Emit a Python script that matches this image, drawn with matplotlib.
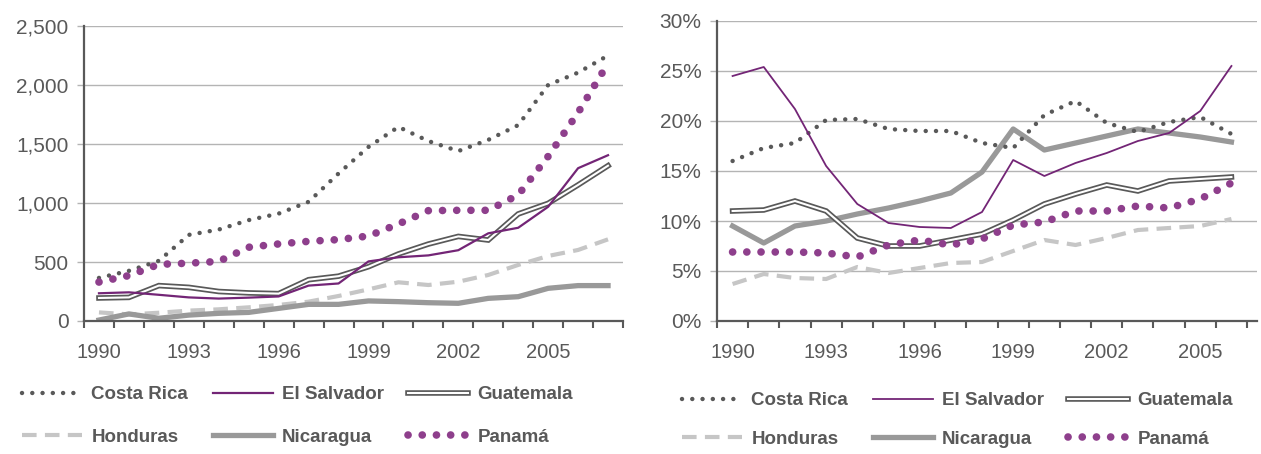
import matplotlib
matplotlib.use("Agg")
import matplotlib.pyplot as plt
import numpy as np
from matplotlib.ticker import FuncFormatter

plt.rcParams['font.family'] = ['Liberation Sans', 'DejaVu Sans']

# left chart: values 1990-2007
years_left = list(range(1990, 2008))
costa_rica_left = [365, 425, 510, 730, 775, 855, 910, 1010, 1250, 1475, 1645, 1525, 1440, 1535, 1660, 2000, 2105, 2250]
el_salvador_left = [235, 243, 222, 200, 190, 198, 208, 300, 318, 505, 540, 556, 600, 743, 790, 968, 1295, 1405]
guatemala_left = [195, 200, 300, 285, 250, 238, 232, 350, 380, 460, 568, 652, 717, 686, 907, 997, 1153, 1316]
honduras_left = [73, 56, 70, 88, 99, 116, 136, 164, 212, 268, 328, 305, 333, 390, 475, 551, 602, 692]
nicaragua_left = [8, 60, 23, 50, 65, 73, 107, 141, 141, 170, 164, 155, 150, 192, 206, 277, 300, 300]
panama_left = [330, 385, 480, 490, 505, 625, 653, 675, 690, 720, 822, 935, 938, 938, 1068, 1395, 1766, 2184]

# right chart: shares in %, 1990-2006
years_right = list(range(1990, 2007))
costa_rica_right = [16.0, 17.3, 17.8, 20.1, 20.2, 19.2, 19.0, 19.0, 17.8, 17.3, 20.6, 22.0, 19.8, 18.9, 19.9, 20.4, 18.7]
el_salvador_right = [24.5, 25.4, 21.2, 15.5, 11.7, 9.8, 9.4, 9.3, 10.9, 16.1, 14.5, 15.8, 16.8, 18.0, 18.8, 21.0, 25.5]
guatemala_right = [11.0, 11.1, 12.0, 11.0, 8.3, 7.5, 7.5, 8.1, 8.7, 10.1, 11.7, 12.7, 13.6, 13.0, 14.0, 14.2, 14.4]
honduras_right = [3.7, 4.7, 4.3, 4.2, 5.4, 4.8, 5.3, 5.8, 5.9, 7.0, 8.1, 7.6, 8.3, 9.1, 9.3, 9.5, 10.2]
nicaragua_right = [9.5, 7.8, 9.5, 10.0, 10.7, 11.3, 12.0, 12.8, 14.9, 19.2, 17.1, 17.8, 18.5, 19.2, 18.8, 18.4, 17.9]
panama_right = [6.9, 6.9, 6.9, 6.8, 6.4, 7.6, 8.1, 7.6, 8.2, 9.6, 9.9, 11.0, 11.0, 11.5, 11.3, 12.2, 13.8]

countries = ['Costa Rica', 'El Salvador', 'Guatemala', 'Honduras', 'Nicaragua', 'Panamá']

DARK = '#595959'
GRID = '#b4b4b4'
PURPLE = '#732576'
PURPLE_DOTS = '#8e3f8c'


def draw_series(ax, x, series, es_width):
    """Draw the six countries, return legend handles"""
    cr, es, gt, hn, ni, pa = series
    h_cr, = ax.plot(x, cr, color=DARK, lw=3.2, linestyle=(0, (0.01, 2.3)),
                    dash_capstyle='round', zorder=4)
    h_es, = ax.plot(x, es, color=PURPLE, lw=es_width, zorder=5)
    h_gt1, = ax.plot(x, gt, color=DARK, lw=4, zorder=3, solid_joinstyle='miter')
    h_gt2, = ax.plot(x, gt, color='white', lw=1.5, zorder=3.1, solid_joinstyle='miter')
    h_hn, = ax.plot(x, hn, color='#c6c6c6', lw=3, linestyle=(0, (3.5, 2)), zorder=2)
    h_ni, = ax.plot(x, ni, color='#999999', lw=3.8, zorder=2.5)
    h_pa, = ax.plot(x, pa, color=PURPLE_DOTS, lw=5.5, linestyle=(0, (0.01, 1.85)),
                    dash_capstyle='round', zorder=4.5)
    return [h_cr, h_es, (h_gt1, h_gt2), h_hn, h_ni, h_pa]


def style_axes(ax, n, xmax, years):
    ax.set_xlim(-0.5, xmax)
    for side in ['top', 'right']:
        ax.spines[side].set_visible(False)
    for side in ['left', 'bottom']:
        ax.spines[side].set_color(DARK)
        ax.spines[side].set_linewidth(1.6)
    ax.yaxis.grid(True, color=GRID, lw=1.0)
    ax.set_axisbelow(True)
    ax.tick_params(axis='y', length=5, width=1, color=GRID, pad=6,
                   labelsize=15, labelcolor=DARK)
    major = list(range(0, n, 3))
    ax.set_xticks(major)
    ax.set_xticklabels([str(years[i]) for i in major])
    ax.set_xticks(np.arange(-0.5, n + 0.5), minor=True)
    ax.tick_params(axis='x', which='major', length=0, pad=16,
                   labelsize=14.5, labelcolor=DARK)
    ax.tick_params(axis='x', which='minor', length=5, width=1.5, color=DARK)


def add_legend(ax, handles, x0, y0, spacing):
    # legend fills column by column, so reorder to get rows of three
    order = [0, 3, 1, 4, 2, 5]
    ax.legend([handles[i] for i in order], [countries[i] for i in order],
              ncol=3, loc='upper left',
              bbox_to_anchor=(x0, y0), bbox_transform=ax.figure.transFigure,
              frameon=False, borderpad=0, borderaxespad=0,
              handlelength=3.2, handletextpad=0.5, columnspacing=1.3,
              labelspacing=spacing,
              prop={'family': ['Liberation Sans', 'DejaVu Sans'], 'weight': 'bold', 'size': 13.5},
              labelcolor=DARK)


fig = plt.figure(figsize=(12.61, 4.54), dpi=100)
W, H = 1261, 454

ax1 = fig.add_axes([84 / W, 1 - 321 / H, (623 - 84) / W, (321 - 26) / H])
x1 = np.arange(len(years_left))
h1 = draw_series(ax1, x1, [costa_rica_left, el_salvador_left, guatemala_left,
                           honduras_left, nicaragua_left, panama_left], 1.6)
ax1.set_ylim(0, 2500)
ax1.set_yticks(range(0, 2501, 500))
ax1.yaxis.set_major_formatter(FuncFormatter(lambda v, p: f'{v:,.0f}'))
style_axes(ax1, len(years_left), len(years_left) - 0.5, years_left)
add_legend(ax1, h1, 22 / W, 1 - 386 / H, 1.35)

ax2 = fig.add_axes([717 / W, 1 - 321 / H, (1257 - 717) / W, (321 - 21) / H])
x2 = np.arange(len(years_right))
h2 = draw_series(ax2, x2, [costa_rica_right, el_salvador_right, guatemala_right,
                           honduras_right, nicaragua_right, panama_right], 1.3)
ax2.set_ylim(0, 30)
ax2.set_yticks(range(0, 31, 5))
ax2.yaxis.set_major_formatter(FuncFormatter(lambda v, p: f'{v:.0f}%'))
style_axes(ax2, len(years_right), len(years_right) - 0.5 + 0.32, years_right)
add_legend(ax2, h2, 682 / W, 1 - 392 / H, 1.15)

fig.savefig('out.png', dpi=100)
